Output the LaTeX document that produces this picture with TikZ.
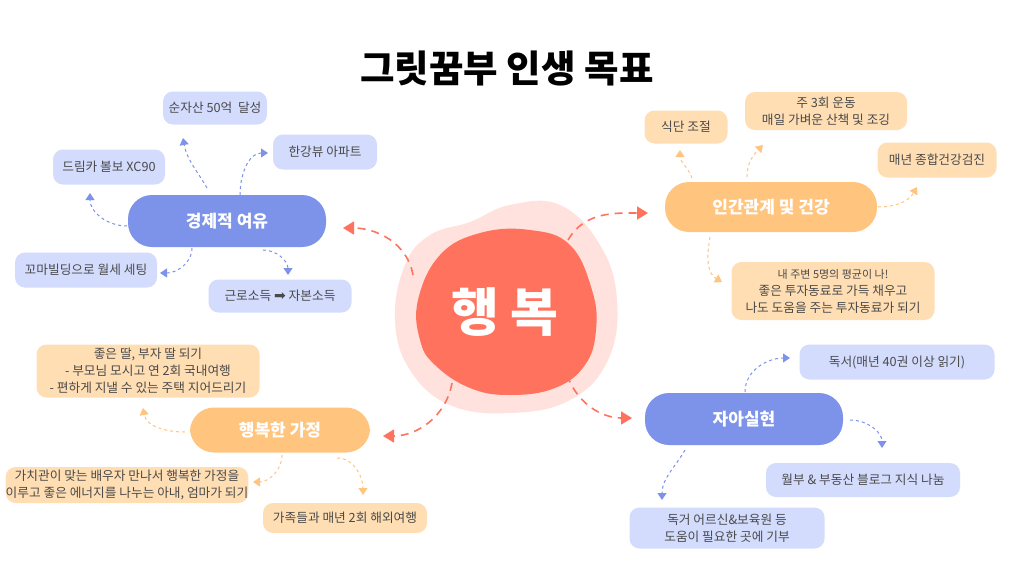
\documentclass[tikz,border=0pt]{standalone}
\usepackage{fontspec}
\setmainfont{Noto Sans CJK KR}
\newfontfamily\dv{DejaVu Sans}
\usetikzlibrary{arrows.meta}
\definecolor{hred}{HTML}{FF735E}
\definecolor{hpink}{HTML}{FFE2DD}
\definecolor{mblue}{HTML}{7D93E9}
\definecolor{lblue}{HTML}{D3DCFD}
\definecolor{morange}{HTML}{FFC57F}
\definecolor{lorange}{HTML}{FFDEB4}
\definecolor{txt}{HTML}{4A4A4A}
\begin{document}
\begin{tikzpicture}[x=1pt,y=1pt,
  sub/.style={rounded corners=10pt, inner sep=0pt, align=center, text=txt, font=\fontsize{12.7}{17}\selectfont},
  bsub/.style={sub, fill=lblue},
  osub/.style={sub, fill=lorange},
  mainnode/.style={rounded corners=24pt, text=white, inner sep=0pt, font=\bfseries\fontsize{17}{20}\selectfont},
  bmain/.style={mainnode, fill=mblue},
  omain/.style={mainnode, fill=morange},
  ar/.style={dash pattern=on 3pt off 3pt, line width=1pt, -{Triangle[length=7pt,width=9pt]}},
  bar/.style={ar, draw=mblue, color=mblue},
  oar/.style={ar, draw=morange, color=morange},
  rar/.style={draw=hred, color=hred, line width=1.6pt, dash pattern=on 8pt off 6pt, -{Triangle[length=11pt,width=13pt]}}
]
\useasboundingbox (0,0) rectangle (1014,-570);
\fill[white] (0,0) rectangle (1014,-570);

% title
\node[font=\bfseries\fontsize{37.5}{40}\selectfont, text=black] (title) at (507,-68) {그릿꿈부 인생 목표};

% central blob
\fill[hpink] plot[smooth cycle, tension=0.7] coordinates {(470,-222) (510,-205) (560,-205) (600,-245) (617,-300) (608,-360) (570,-400) (510,-413) (450,-405) (410,-370) (395,-320) (405,-265) (430,-235)};
\fill[hred] plot[smooth cycle, tension=0.7] coordinates {(418,-300) (440,-255) (480,-233) (530,-230) (570,-245) (592,-290) (596,-330) (585,-365) (555,-388) (510,-395) (470,-388) (435,-365) (420,-340)};
\node[text=white, font=\bfseries\fontsize{52}{56}\selectfont, inner sep=0pt] (hap) at (505,-312) {행 복};

% main nodes
\node[bmain, minimum width=198pt, minimum height=52pt] (econ) at (227,-221) {경제적 여유};
\node[omain, minimum width=212pt, minimum height=50pt] (health) at (771,-207) {인간관계 및 건강};
\node[omain, minimum width=180pt, minimum height=45pt] (family) at (280,-430) {행복한 가정};
\node[bmain, minimum width=198pt, minimum height=52pt] (self) at (744,-419) {자아실현};

% economic subs
\node[bsub, minimum width=104pt, minimum height=33pt] (s1) at (215,-108) {순자산 50억\ \ 달성};
\node[bsub, minimum width=104pt, minimum height=35pt] (s2) at (325,-152) {한강뷰 아파트};
\node[bsub, minimum width=112pt, minimum height=35pt] (s3) at (109,-167) {드림카 볼보 XC90};
\node[bsub, minimum width=142pt, minimum height=35pt] (s4) at (86,-270) {꼬마빌딩으로 월세 세팅};
\node[bsub, minimum width=143pt, minimum height=33pt] (s5) at (280,-296) {근로소득 {\dv\fontsize{14}{14}\selectfont ➡} 자본소득};

% health subs
\node[osub, minimum width=83pt, minimum height=33pt] (h1) at (686,-127) {식단 조절};
\node[osub, minimum width=162pt, minimum height=38pt] (h2) at (826,-111) {주 3회 운동\\매일 가벼운 산책 및 조깅};
\node[osub, minimum width=119pt, minimum height=35pt] (h3) at (937,-160) {매년 종합건강검진};
\node[osub, minimum width=203pt, minimum height=58pt] (h4) at (833,-291) {{\fontsize{11}{15}\selectfont 내 주변 5명의 평균이 나!}\\좋은 투자동료로 가득 채우고\\나도 도움을 주는 투자동료가 되기};

% family subs
\node[osub, minimum width=223pt, minimum height=53pt] (f1) at (148,-371) {좋은 딸, 부자 딸 되기\\- 부모님 모시고 연 2회 국내여행\\- 편하게 지낼 수 있는 주택 지어드리기};
\node[osub, minimum width=240pt, minimum height=36pt] (f2) at (127,-485) {가치관이 맞는 배우자 만나서 행복한 가정을\\이루고 좋은 에너지를 나누는 아내, 엄마가 되기};
\node[osub, minimum width=164pt, minimum height=30pt] (f3) at (345,-518) {가족들과 매년 2회 해외여행};

% self subs
\node[bsub, minimum width=195pt, minimum height=35pt] (z1) at (897,-362) {독서(매년 40권 이상 읽기)};
\node[bsub, minimum width=194pt, minimum height=34pt] (z2) at (863,-480) {월부 \& 부동산 블로그 지식 나눔};
\node[bsub, minimum width=195pt, minimum height=41pt] (z3) at (727,-528) {독거 어르신\&보육원 등\\도움이 필요한 곳에 기부};

% central arrows
\draw[rar] ([shift={(-92,37)}]hap.center) to[out=100,in=0] ([shift={(116,-7)}]econ.center);
\draw[rar] ([shift={(63,72)}]hap.center) to[out=60,in=180] ([shift={(-123,-6)}]health.center);
\draw[rar] ([shift={(-53,-71)}]hap.center) to[out=-100,in=0] ([shift={(103,-6)}]family.center);
\draw[rar] ([shift={(62,-63)}]hap.center) to[out=-70,in=180] ([shift={(-112,1)}]self.center);

% economic arrows
\draw[bar] ([shift={(-20,33)}]econ.center) to[out=120,in=-80] ([shift={(-32,-30)}]s1.center);
\draw[bar] ([shift={(13,26)}]econ.center) to[out=90,in=180] ([shift={(-57,-1)}]s2.center);
\draw[bar] ([shift={(-100,-5)}]econ.center) to[out=180,in=-90] ([shift={(-19,-26)}]s3.center);
\draw[bar] ([shift={(-35,-27)}]econ.center) to[out=-90,in=0] ([shift={(74,-3)}]s4.center);
\draw[bar] ([shift={(36,-29)}]econ.center) to[out=0,in=90] ([shift={(8,21)}]s5.center);

% health arrows
\draw[oar] ([shift={(-79,29)}]health.center) to[out=110,in=-90] ([shift={(-6,-23)}]h1.center);
\draw[oar] ([shift={(-24,30)}]health.center) to[out=90,in=-135] ([shift={(-63,-34)}]h2.center);
\draw[oar] ([shift={(107,0)}]health.center) to[out=0,in=-120] ([shift={(-20,-27)}]h3.center);
\draw[oar] ([shift={(-61,-30)}]health.center) to[out=-100,in=150] ([shift={(-111,9)}]h4.center);

% family arrows
\draw[oar] ([shift={(-95,-2)}]family.center) to[out=180,in=-80] ([shift={(-5,-37)}]f1.center);
\draw[oar] ([shift={(2,-25)}]family.center) to[out=-90,in=0] ([shift={(126,3)}]f2.center);
\draw[oar] ([shift={(57,-28)}]family.center) to[out=0,in=90] ([shift={(18,23)}]f3.center);

% self arrows
\draw[bar] ([shift={(1,27)}]self.center) to[out=90,in=180] ([shift={(-107,4)}]z1.center);
\draw[bar] ([shift={(106,-1)}]self.center) to[out=0,in=90] ([shift={(19,32)}]z2.center);
\draw[bar] ([shift={(-59,-31)}]self.center) to[out=-120,in=90] ([shift={(-65,28)}]z3.center);
\end{tikzpicture}
\end{document}
